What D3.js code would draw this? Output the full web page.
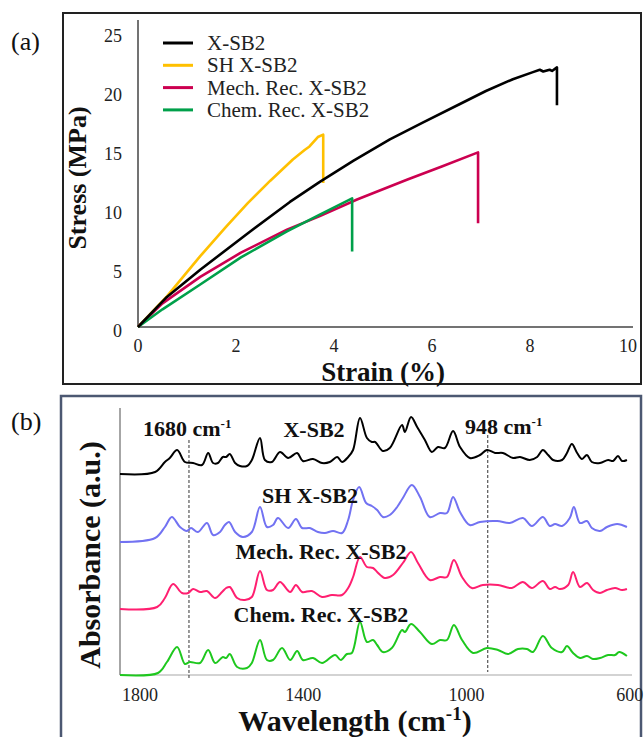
<!doctype html>
<html lang="en">
<head>
  <meta charset="utf-8">
  <title>Stress-strain and FTIR</title>
  <style>
    body { margin: 0; background: #fff; }
    svg { display: block; font-family: "Liberation Serif", "Times New Roman", serif; }
    .tick-label { font-size: 18px; fill: #222; }
    .axis-title { font-size: 27px; font-weight: bold; fill: #111; }
    .legend text { font-size: 21px; fill: #222; }
    .spec-label { font-size: 22px; font-weight: bold; fill: #111; }
  </style>
</head>
<body>
<svg id="chart" width="644" height="737"></svg>
<script src="https://d3js.org/d3.v7.min.js"></script>
<script>
// ---- panel (a): stress-strain, [strain %, stress MPa]
const stressSeries = ['X-SB2', 'SH X-SB2', 'Mech. Rec. X-SB2', 'Chem. Rec. X-SB2'];
const stressColors = ['#000000', '#ffc000', '#cc0050', '#00a04a'];
const xsb2 = [[0, 0], [0.59, 2.55], [1.27, 4.85], [2.29, 8.1], [3.1, 10.6], [3.71, 12.3], [4.4, 14.1],
  [5.14, 15.9], [5.8, 17.3], [6.57, 18.9], [7.1, 20.0], [7.65, 21.0], [8.06, 21.6],
  [8.2, 21.8], [8.27, 21.65], [8.4, 21.8], [8.45, 21.7], [8.55, 22.0], [8.55, 18.8]];
const shXsb2 = [[0, 0], [0.59, 2.6], [1.27, 6.0], [1.8, 8.5], [2.24, 10.5], [2.7, 12.4], [3.16, 14.2],
  [3.4, 15.0], [3.5, 15.3], [3.67, 16.1], [3.78, 16.3], [3.78, 12.2]];
const mechXsb2 = [[0, 0], [0.5, 2.0], [1.27, 4.25], [2.1, 6.3], [3.04, 8.25], [3.71, 9.4], [4.47, 10.8],
  [5.5, 12.5], [6.2, 13.6], [6.94, 14.8], [6.94, 8.8]];
const chemXsb2 = [[0, 0], [0.5, 1.5], [1.27, 3.6], [2.1, 5.9], [3.04, 8.1], [3.7, 9.5], [4.37, 10.9], [4.37, 6.4]];
const strainTicks = [0, 2, 4, 6, 8, 10];
const stressTicks = [0, 5, 10, 15, 20, 25];

// ---- panel (b): FTIR, [wavenumber cm-1, absorbance a.u. (stacked)]
const ftirLabels = ['X-SB2', 'SH X-SB2', 'Mech. Rec. X-SB2', 'Chem. Rec. X-SB2'];
const ftirColors = ['#000000', '#7272f2', '#ff1f70', '#1ec81e'];
const ftirBlack = [[1849, 2.01], [1763, 2.03], [1739, 2.13], [1727, 2.17], [1709, 2.25], [1690, 2.13], [1670, 2.12],
  [1648, 2.10], [1633, 2.22], [1621, 2.12], [1609, 2.12], [1597, 2.18], [1589, 2.18], [1580, 2.21], [1567, 2.12],
  [1555, 2.09], [1538, 2.09], [1526, 2.15], [1506, 2.37], [1494, 2.15], [1477, 2.13], [1457, 2.23], [1437, 2.17],
  [1415, 2.22], [1401, 2.14], [1376, 2.16], [1354, 2.12], [1335, 2.13], [1317, 2.18], [1305, 2.13], [1290, 2.18],
  [1278, 2.25], [1261, 2.57], [1244, 2.37], [1232, 2.33], [1224, 2.33], [1205, 2.24], [1188, 2.27], [1158, 2.50],
  [1151, 2.43], [1136, 2.58], [1121, 2.48], [1102, 2.35], [1085, 2.23], [1070, 2.28], [1053, 2.27], [1033, 2.44],
  [1016, 2.28], [992, 2.17], [967, 2.20], [950, 2.25], [930, 2.22], [911, 2.22], [886, 2.17], [869, 2.18],
  [845, 2.15], [827, 2.18], [813, 2.25], [800, 2.20], [788, 2.15], [766, 2.15], [754, 2.22], [742, 2.31],
  [729, 2.22], [717, 2.16], [705, 2.20], [693, 2.13], [673, 2.12], [653, 2.15], [641, 2.14], [629, 2.19],
  [619, 2.14], [607, 2.15]];
const ftirBlue = [[1849, 1.33], [1763, 1.37], [1739, 1.48], [1722, 1.58], [1702, 1.48], [1685, 1.44], [1675, 1.47],
  [1658, 1.43], [1636, 1.52], [1621, 1.40], [1604, 1.43], [1592, 1.50], [1582, 1.53], [1567, 1.43], [1548, 1.38],
  [1526, 1.43], [1506, 1.68], [1489, 1.48], [1474, 1.50], [1462, 1.57], [1437, 1.47], [1418, 1.56], [1403, 1.47],
  [1384, 1.47], [1364, 1.43], [1347, 1.42], [1327, 1.44], [1305, 1.42], [1290, 1.55], [1278, 1.75], [1263, 1.88],
  [1246, 1.72], [1232, 1.69], [1219, 1.65], [1205, 1.58], [1188, 1.60], [1170, 1.68], [1156, 1.77], [1134, 1.90],
  [1114, 1.78], [1090, 1.58], [1065, 1.62], [1048, 1.62], [1033, 1.78], [1016, 1.63], [992, 1.50], [967, 1.53],
  [925, 1.54], [894, 1.52], [862, 1.57], [840, 1.49], [813, 1.58], [796, 1.49], [783, 1.51], [766, 1.49],
  [747, 1.57], [737, 1.68], [722, 1.52], [705, 1.54], [693, 1.47], [673, 1.44], [656, 1.48], [631, 1.51], [607, 1.48]];
const ftirPink = [[1849, 0.66], [1758, 0.68], [1739, 0.77], [1719, 0.91], [1697, 0.82], [1682, 0.82], [1670, 0.86],
  [1653, 0.83], [1636, 0.84], [1616, 0.77], [1599, 0.83], [1589, 0.87], [1580, 0.88], [1562, 0.77], [1543, 0.75],
  [1526, 0.78], [1506, 1.04], [1489, 0.85], [1474, 0.85], [1457, 0.93], [1432, 0.83], [1418, 0.90], [1403, 0.83],
  [1379, 0.84], [1354, 0.78], [1330, 0.80], [1305, 0.80], [1290, 0.87], [1278, 0.98], [1261, 1.18], [1244, 1.08],
  [1229, 1.07], [1219, 1.03], [1200, 0.97], [1180, 1.00], [1156, 1.12], [1136, 1.23], [1119, 1.12], [1090, 0.95],
  [1065, 0.98], [1048, 0.98], [1031, 1.15], [1011, 0.98], [987, 0.87], [960, 0.90], [923, 0.90], [889, 0.87],
  [862, 0.93], [840, 0.87], [813, 0.94], [796, 0.86], [783, 0.88], [771, 0.86], [751, 0.90], [739, 1.03],
  [722, 0.88], [705, 0.92], [690, 0.85], [673, 0.82], [656, 0.85], [636, 0.87], [619, 0.85], [607, 0.86]];
const ftirGreen = [[1849, 0.00], [1756, 0.02], [1734, 0.13], [1709, 0.28], [1690, 0.11], [1678, 0.13], [1653, 0.12],
  [1633, 0.25], [1616, 0.12], [1597, 0.18], [1589, 0.17], [1580, 0.21], [1562, 0.08], [1538, 0.07], [1526, 0.12],
  [1506, 0.35], [1489, 0.15], [1474, 0.15], [1452, 0.27], [1432, 0.15], [1415, 0.24], [1401, 0.15], [1376, 0.17],
  [1354, 0.12], [1322, 0.20], [1308, 0.15], [1293, 0.21], [1281, 0.22], [1261, 0.53], [1244, 0.33], [1229, 0.35],
  [1219, 0.30], [1205, 0.23], [1183, 0.27], [1158, 0.45], [1151, 0.43], [1136, 0.51], [1114, 0.43], [1085, 0.31],
  [1065, 0.35], [1048, 0.35], [1031, 0.50], [1011, 0.35], [984, 0.22], [950, 0.27], [923, 0.25], [898, 0.21],
  [874, 0.26], [852, 0.26], [837, 0.23], [813, 0.39], [791, 0.27], [766, 0.23], [754, 0.29], [739, 0.22],
  [722, 0.17], [705, 0.19], [690, 0.16], [673, 0.17], [653, 0.20], [636, 0.20], [626, 0.23], [607, 0.19]];
const wavenumberTicks = [1800, 1400, 1000, 600];
const markedBands = [1680, 948];

const svg = d3.select('#chart');

// ================= panel (a) =================
svg.append('rect')
  .attr('x', 63).attr('y', 13).attr('width', 578).attr('height', 371)
  .attr('fill', 'none').attr('stroke', '#222').attr('stroke-width', 2);

svg.append('text').attr('x', 11).attr('y', 50)
  .style('font-size', '26px').style('fill', '#111').text('(a)');

const xA = d3.scaleLinear().domain([0, 10]).range([138, 628]);
const yA = d3.scaleLinear().domain([0, 25]).range([327, 32]);

const gA = svg.append('g');

gA.append('line')
  .attr('x1', xA(0)).attr('x2', xA(0)).attr('y1', 20).attr('y2', yA(0))
  .attr('stroke', '#444').attr('stroke-width', 1.5);
gA.append('line')
  .attr('x1', xA(0)).attr('x2', 633).attr('y1', yA(0)).attr('y2', yA(0))
  .attr('stroke', '#444').attr('stroke-width', 1.5);

gA.selectAll('.ytick')
  .data(stressTicks)
  .join('text')
  .attr('class', 'tick-label')
  .attr('x', 122)
  .attr('y', d => yA(d) + 10)
  .attr('text-anchor', 'end')
  .text(d => d);

gA.selectAll('.xtick')
  .data(strainTicks)
  .join('text')
  .attr('class', 'tick-label')
  .attr('x', d => xA(d))
  .attr('y', 352)
  .attr('text-anchor', 'middle')
  .text(d => d);

gA.append('text')
  .attr('class', 'axis-title')
  .style('font-size', '26px')
  .attr('transform', 'translate(86,178) rotate(-90)')
  .attr('text-anchor', 'middle')
  .text('Stress (MPa)');

gA.append('text')
  .attr('class', 'axis-title')
  .style('font-size', '27px')
  .attr('x', 383).attr('y', 381)
  .attr('text-anchor', 'middle')
  .text('Strain (%)');

const lineA = d3.line().x(d => xA(d[0])).y(d => yA(d[1]));
const stressData = [xsb2, shXsb2, mechXsb2, chemXsb2];

// black on top, as in the figure
gA.selectAll('.curve')
  .data([1, 2, 3, 0])
  .join('path')
  .attr('d', i => lineA(stressData[i]))
  .attr('fill', 'none')
  .attr('stroke', i => stressColors[i])
  .attr('stroke-width', 2.6)
  .attr('stroke-linejoin', 'round');

const legend = gA.append('g').attr('class', 'legend')
  .selectAll('g')
  .data(stressSeries)
  .join('g')
  .attr('transform', (d, i) => 'translate(163,' + (43 + i * 22.3) + ')');

legend.append('line')
  .attr('x1', 0).attr('x2', 30)
  .attr('stroke', (d, i) => stressColors[i])
  .attr('stroke-width', 3);

legend.append('text')
  .attr('x', 44).attr('y', 7)
  .text(d => d);

// ================= panel (b) =================
svg.append('rect')
  .attr('x', 61).attr('y', 396).attr('width', 580).attr('height', 360)
  .attr('fill', 'none').attr('stroke', '#4c5872').attr('stroke-width', 2.5);

svg.append('text').attr('x', 11).attr('y', 430)
  .style('font-size', '26px').style('fill', '#111').text('(b)');

const xB = d3.scaleLinear().domain([1800, 600]).range([140, 629.8]);
const yB = d3.scaleLinear().domain([0, 2.67]).range([675, 408]);

const gB = svg.append('g');

gB.append('line')
  .attr('x1', 120).attr('x2', 120).attr('y1', 408).attr('y2', yB(0))
  .attr('stroke', '#888').attr('stroke-width', 1.5);
gB.append('line')
  .attr('x1', 120).attr('x2', 632).attr('y1', yB(0)).attr('y2', yB(0))
  .attr('stroke', '#c4c4c4').attr('stroke-width', 1.5);

gB.selectAll('.band')
  .data(markedBands)
  .join('line')
  .attr('x1', d => xB(d)).attr('x2', d => xB(d))
  .attr('y1', (d, i) => i === 0 ? 440 : 435)
  .attr('y2', (d, i) => i === 0 ? 680 : 672)
  .attr('stroke', '#333').attr('stroke-width', 1)
  .attr('stroke-dasharray', '3,2');

const lineB = d3.line()
  .x(d => xB(d[0]))
  .y(d => yB(d[1]))
  .curve(d3.curveCatmullRom.alpha(0.5));

gB.selectAll('.spectrum')
  .data([ftirBlack, ftirBlue, ftirPink, ftirGreen])
  .join('path')
  .attr('d', lineB)
  .attr('fill', 'none')
  .attr('stroke', (d, i) => ftirColors[i])
  .attr('stroke-width', 2)
  .attr('stroke-linejoin', 'round');

gB.selectAll('.xtickB')
  .data(wavenumberTicks)
  .join('text')
  .attr('class', 'tick-label')
  .attr('x', d => xB(d))
  .attr('y', 701)
  .attr('text-anchor', 'middle')
  .text(d => d);

// spectrum labels
const labelPos = [[314, 437], [310, 503], [321, 559], [321, 622]];
gB.selectAll('.spec')
  .data(ftirLabels)
  .join('text')
  .attr('class', 'spec-label')
  .attr('x', (d, i) => labelPos[i][0])
  .attr('y', (d, i) => labelPos[i][1])
  .attr('text-anchor', 'middle')
  .text(d => d);

// band labels with superscript
const bandText = gB.selectAll('.bandlabel')
  .data(markedBands)
  .join('text')
  .attr('class', 'spec-label')
  .attr('x', (d, i) => i === 0 ? 143 : 465)
  .attr('y', (d, i) => i === 0 ? 436 : 434);
bandText.append('tspan').text(d => d + ' cm');
bandText.append('tspan').attr('dy', -8).style('font-size', '13px').text('-1');

gB.append('text')
  .attr('class', 'axis-title')
  .style('font-size', '30px')
  .attr('transform', 'translate(100,555) rotate(-90)')
  .attr('text-anchor', 'middle')
  .text('Absorbance (a.u.)');

const xTitle = gB.append('text')
  .attr('class', 'axis-title')
  .style('font-size', '30px')
  .attr('x', 355).attr('y', 731)
  .attr('text-anchor', 'middle');
xTitle.append('tspan').text('Wavelength (cm');
xTitle.append('tspan').attr('dy', -11).style('font-size', '19px').text('-1');
xTitle.append('tspan').attr('dy', 11).text(')');
</script>
</body>
</html>
